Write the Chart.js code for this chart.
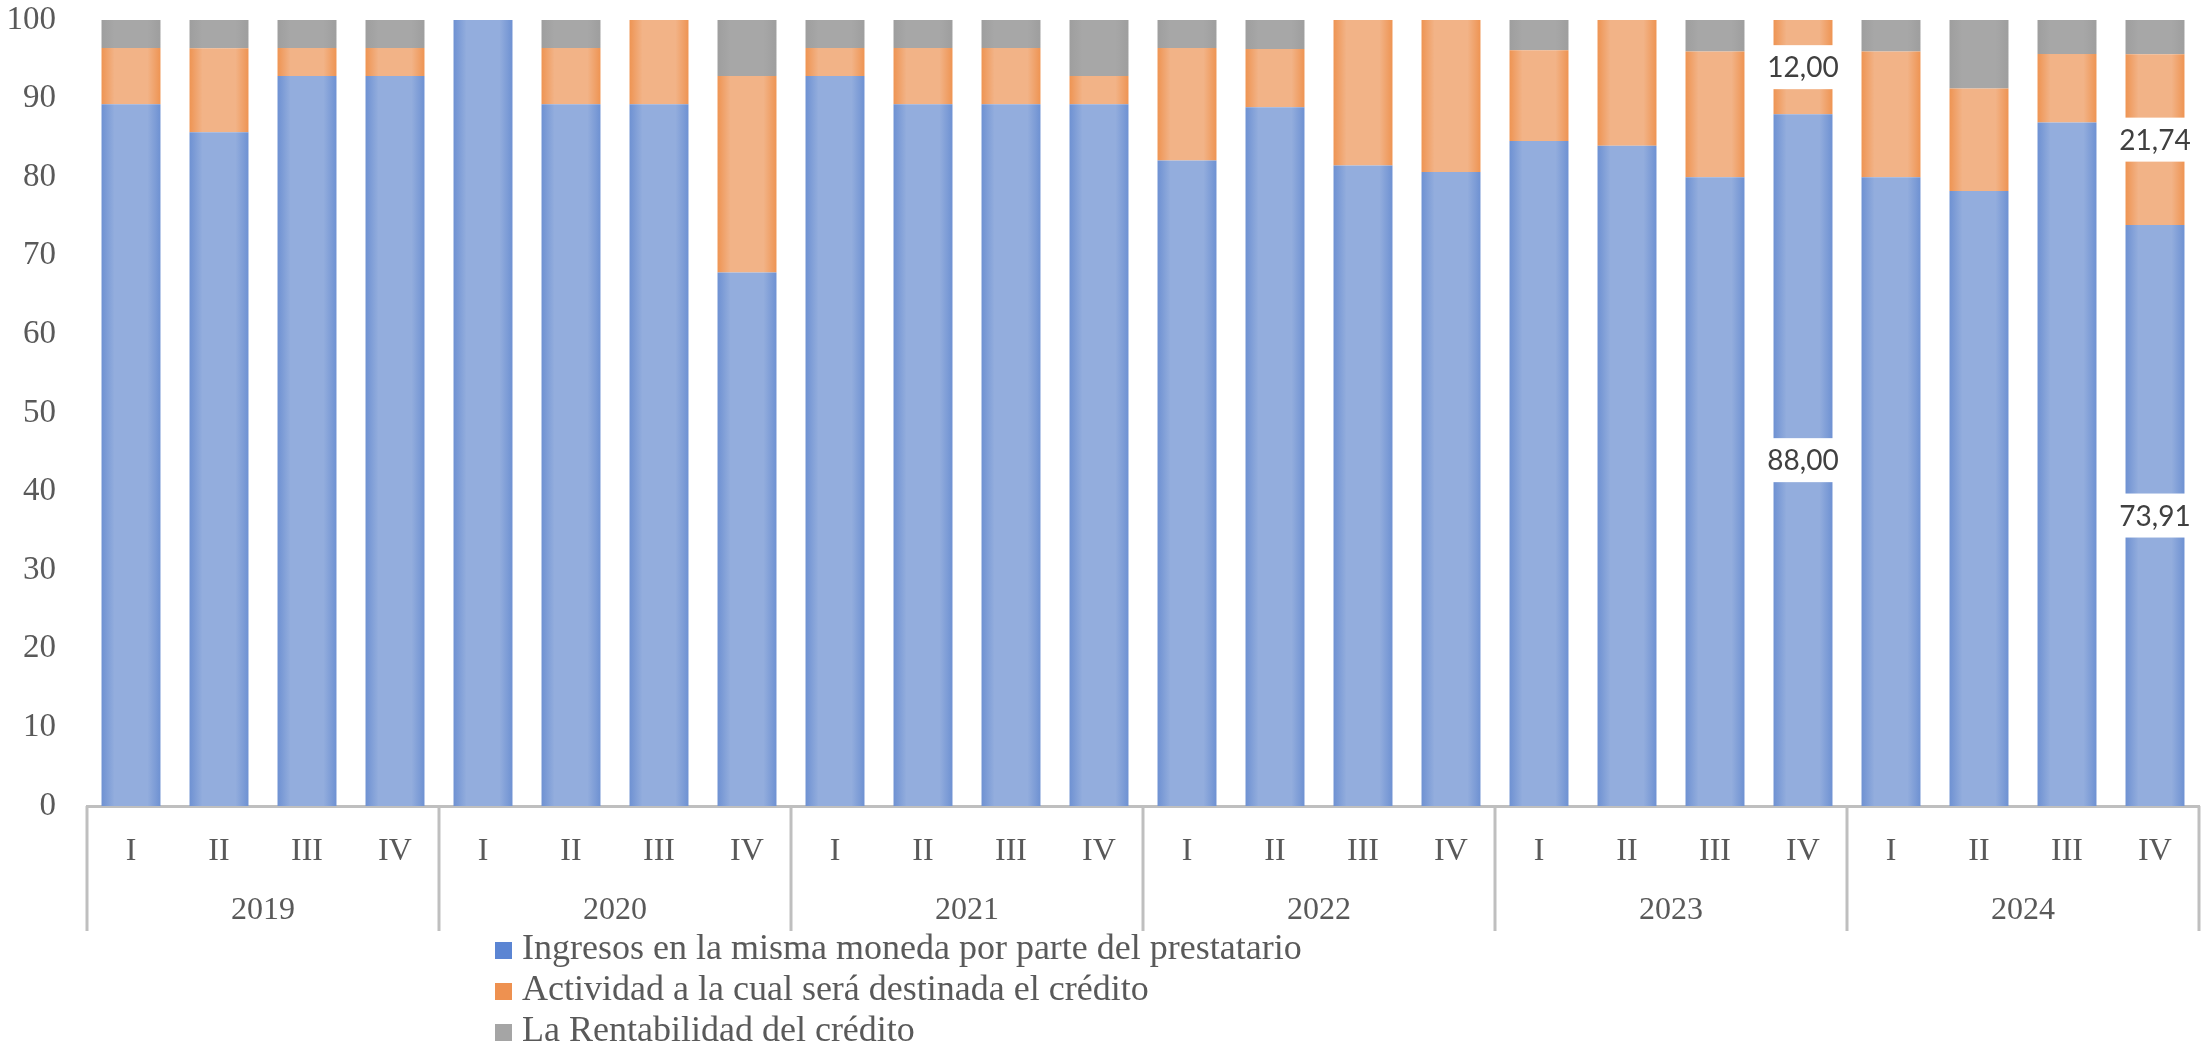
<!DOCTYPE html>
<html>
<head>
<meta charset="utf-8">
<script src="https://cdn.jsdelivr.net/npm/chart.js@4.4.1/dist/chart.umd.min.js"></script>
<style>
  html, body { margin: 0; padding: 0; background: #fff; }
</style>
</head>
<body>
<canvas id="grafico" width="2202" height="1048"></canvas>
<script>
const years = ['2019', '2020', '2021', '2022', '2023', '2024'];
const quarters = ['I', 'II', 'III', 'IV'];

const seriesNames = [
  'Ingresos en la misma moneda por parte del prestatario',
  'Actividad a la cual será destinada el crédito',
  'La Rentabilidad del crédito'
];

// porcentajes por trimestre (2019 I ... 2024 IV)
const ingresos = [
  89.29, 85.71, 92.86, 92.86,
  100.00, 89.29, 89.29, 67.86,
  92.86, 89.29, 89.29, 89.29,
  82.14, 88.89, 81.48, 80.65,
  84.62, 84.00, 80.00, 88.00,
  80.00, 78.26, 86.96, 73.91
];
const actividad = [
  7.14, 10.71, 3.57, 3.57,
  0.00, 7.14, 10.71, 25.00,
  3.57, 7.14, 7.14, 3.57,
  14.29, 7.41, 18.52, 19.35,
  11.54, 16.00, 16.00, 12.00,
  16.00, 13.04, 8.70, 21.74
];
const rentabilidad = [
  3.57, 3.57, 3.57, 3.57,
  0.00, 3.57, 0.00, 7.14,
  3.57, 3.57, 3.57, 7.14,
  3.57, 3.70, 0.00, 0.00,
  3.85, 0.00, 4.00, 0.00,
  4.00, 8.70, 4.35, 4.35
];

const yTicks = [0, 10, 20, 30, 40, 50, 60, 70, 80, 90, 100];

// [dataset, index] con etiqueta de valor
const etiquetados = [[1, 19], [0, 19], [1, 23], [0, 23]];

const labels = years.flatMap(() => quarters);
const serif = '"Liberation Serif", "DejaVu Serif", serif';
const gris = '#595959';

// relleno con degradado horizontal como en Excel
function degradado(borde, centro) {
  return function (c) {
    const chart = c.chart;
    const x = chart.scales.x;
    if (!chart.chartArea || !x || c.type !== 'data') return centro;
    const paso = x.getPixelForValue(1) - x.getPixelForValue(0);
    const medio = paso * 0.67 / 2;
    const cx = x.getPixelForValue(c.dataIndex);
    const g = chart.ctx.createLinearGradient(cx - medio, 0, cx + medio, 0);
    g.addColorStop(0, borde);
    g.addColorStop(0.22, centro);
    g.addColorStop(0.78, centro);
    g.addColorStop(1, borde);
    return g;
  };
}

const legendColors = ['#5B85D3', '#EE9150', '#A5A5A5'];

const ejeAnios = {
  id: 'ejeAnios',
  afterDraw(chart) {
    const { ctx, chartArea } = chart;
    const x = chart.scales.x;
    const paso = x.getPixelForValue(1) - x.getPixelForValue(0);
    ctx.save();
    ctx.strokeStyle = '#BFBFBF';
    ctx.lineWidth = 3;
    for (let g = 0; g <= years.length; g++) {
      const px = Math.round(x.getPixelForValue(g * 4) - paso / 2);
      ctx.beginPath();
      ctx.moveTo(px, chartArea.bottom);
      ctx.lineTo(px, chartArea.bottom + 125);
      ctx.stroke();
    }
    ctx.fillStyle = gris;
    ctx.font = '32px ' + serif;
    ctx.textAlign = 'center';
    ctx.textBaseline = 'middle';
    years.forEach((y, g) => {
      const cx = (x.getPixelForValue(g * 4) + x.getPixelForValue(g * 4 + 3)) / 2;
      ctx.fillText(y, cx, chartArea.bottom + 105);
    });

    // leyenda en lista vertical
    ctx.textAlign = 'left';
    ctx.font = '36px ' + serif;
    seriesNames.forEach((n, i) => {
      const cy = 950 + i * 41;
      ctx.fillStyle = legendColors[i];
      ctx.fillRect(495, cy - 8, 17, 17);
      ctx.fillStyle = gris;
      ctx.fillText(n, 522, cy);
    });
    ctx.restore();
  }
};

const etiquetas = {
  id: 'etiquetas',
  afterDatasetsDraw(chart) {
    const ctx = chart.ctx;
    const series = [ingresos, actividad, rentabilidad];
    ctx.save();
    ctx.font = '28px Lato, "Open Sans", sans-serif';
    ctx.textAlign = 'center';
    ctx.textBaseline = 'middle';
    etiquetados.forEach(([d, i]) => {
      const el = chart.getDatasetMeta(d).data[i];
      const cy = (el.y + el.base) / 2;
      const txt = series[d][i].toFixed(2).replace('.', ',');
      const w = Math.max(ctx.measureText(txt).width + 6, el.width + 2);
      ctx.fillStyle = '#ffffff';
      ctx.fillRect(el.x - w / 2, cy - 22, w, 44);
      ctx.fillStyle = '#404040';
      ctx.fillText(txt, el.x, cy + 1);
    });
    ctx.restore();
  }
};

new Chart(document.getElementById('grafico'), {
  type: 'bar',
  data: {
    labels: labels,
    datasets: [
      { label: seriesNames[0], data: ingresos, backgroundColor: degradado('#6E91D2', '#93ADDD') },
      { label: seriesNames[1], data: actividad, backgroundColor: degradado('#EE9453', '#F2B387') },
      { label: seriesNames[2], data: rentabilidad, backgroundColor: degradado('#9E9E9E', '#A7A7A7') }
    ]
  },
  options: {
    responsive: false,
    animation: false,
    events: [],
    datasets: {
      bar: { categoryPercentage: 1, barPercentage: 0.67, borderWidth: 0 }
    },
    layout: { padding: { left: 0, right: 3, top: 20, bottom: 121 } },
    scales: {
      x: {
        stacked: true,
        grid: { display: false, drawTicks: false },
        border: { display: true, color: '#BFBFBF', width: 3 },
        ticks: { color: gris, font: { family: serif, size: 32 }, padding: 26, maxRotation: 0, autoSkip: false },
        afterFit: s => { s.height = 121; s.paddingLeft = 0; s.paddingRight = 0; }
      },
      y: {
        stacked: true,
        min: 0,
        max: 100,
        afterBuildTicks: s => { s.ticks = yTicks.map(v => ({ value: v })); },
        grid: { display: false, drawTicks: false },
        border: { display: false },
        ticks: { color: gris, font: { family: serif, size: 33 }, padding: 31 },
        afterFit: s => { s.width = 87; s.paddingTop = 0; s.paddingBottom = 0; }
      }
    },
    plugins: {
      legend: { display: false },
      tooltip: { enabled: false }
    }
  },
  plugins: [ejeAnios, etiquetas]
});
</script>
</body>
</html>
